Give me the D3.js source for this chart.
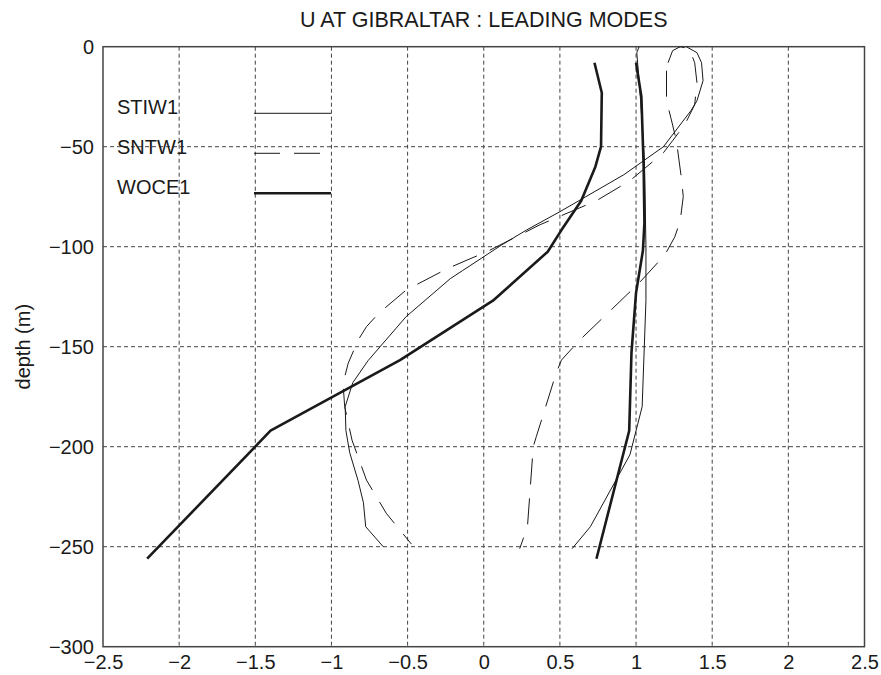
<!DOCTYPE html>
<html>
<head>
<meta charset="utf-8">
<script src="https://cdn.jsdelivr.net/npm/d3@7"></script>
<style>
  body { margin: 0; background: #fff; }
  text { font-family: "Liberation Sans", Arial, sans-serif; fill: #1a1a1a; }
</style>
</head>
<body>
<div id="chart"></div>
<script>
// velocity profiles, [u, depth]
const stiw1A = [[1.02, 0], [1.005, -3], [1.03, -27], [1.055, -57], [1.065, -100], [1.065, -127], [1.04, -180], [0.96, -204], [0.70, -240], [0.58, -251]];
const stiw1B = [[1.33, 0], [1.40, -3], [1.43, -8], [1.44, -17], [1.40, -27], [1.36, -32], [1.18, -50], [0.92, -64], [0.50, -82.5], [0.28, -91.7], [0.12, -99], [-0.14, -112], [-0.22, -116], [-0.51, -135], [-0.76, -157], [-0.86, -168], [-0.91, -180], [-0.905, -192], [-0.88, -203], [-0.825, -217], [-0.79, -228], [-0.775, -240], [-0.66, -250]];
const sntw1A = [[1.21, -8], [1.24, -2], [1.29, 0], [1.35, -1], [1.385, -8], [1.40, -18], [1.385, -29], [1.32, -39], [1.24, -47], [1.18, -53], [0.96, -67], [0.74, -77], [0.37, -89], [0.215, -95], [0.02, -102.5], [-0.11, -106.7], [-0.24, -111], [-0.51, -121.7], [-0.69, -133.3], [-0.77, -140], [-0.825, -146.7], [-0.89, -158.3], [-0.924, -168.3], [-0.913, -180], [-0.865, -196.7], [-0.77, -216.7], [-0.64, -233.3], [-0.475, -248.7]];
const sntw1B = [[1.20, -12], [1.20, -27], [1.23, -36], [1.265, -47], [1.30, -67], [1.31, -75], [1.29, -87], [1.255, -95], [1.19, -104], [1.01, -119], [0.94, -124], [0.63, -146.7], [0.51, -156.7], [0.475, -163.3], [0.345, -195], [0.325, -200], [0.287, -240], [0.236, -251]];
const woce1A = [[0.727, -8], [0.775, -23], [0.77, -50], [0.733, -60], [0.64, -77], [0.51, -91.7], [0.42, -102.5], [0.06, -127], [-0.55, -156.7], [-1.40, -192], [-2.21, -256]];
const woce1B = [[1.00, -8], [1.035, -25], [1.05, -60], [1.055, -88], [1.045, -102], [1.00, -123], [0.97, -153], [0.955, -192], [0.74, -256]];

const xTicks = [-2.5, -2, -1.5, -1, -0.5, 0, 0.5, 1, 1.5, 2, 2.5];
const yTicks = [0, -50, -100, -150, -200, -250, -300];
const legendNames = ['STIW1', 'SNTW1', 'WOCE1'];

const width = 881, height = 675;
const svg = d3.select('#chart').append('svg')
  .attr('width', width)
  .attr('height', height);

const x = d3.scaleLinear().domain([-2.5, 2.5]).range([103, 864.5]);
const y = d3.scaleLinear().domain([-300, 0]).range([646.7, 46.7]);
const fmt = d => (d < 0 ? '\u2212' : '') + Math.abs(d);

// grid
const grid = svg.append('g')
  .attr('stroke', '#444')
  .attr('stroke-width', 1)
  .attr('stroke-dasharray', '4,3');
grid.selectAll('.gx')
  .data(xTicks.slice(1, -1))
  .enter().append('line')
  .attr('x1', d => x(d)).attr('x2', d => x(d))
  .attr('y1', y(0)).attr('y2', y(-300));
grid.selectAll('.gy')
  .data(yTicks.slice(1, -1))
  .enter().append('line')
  .attr('x1', x(-2.5)).attr('x2', x(2.5))
  .attr('y1', d => y(d)).attr('y2', d => y(d));

// axes
svg.append('g')
  .attr('transform', `translate(0,${y(-300)})`)
  .call(d3.axisBottom(x).tickValues(xTicks).tickFormat(fmt).tickSize(0).tickPadding(8))
  .call(g => g.select('.domain').remove())
  .selectAll('text')
  .attr('font-size', 20);
svg.append('g')
  .attr('transform', `translate(${x(-2.5)},0)`)
  .call(d3.axisLeft(y).tickValues(yTicks).tickFormat(fmt).tickSize(0).tickPadding(9))
  .call(g => g.select('.domain').remove())
  .selectAll('text')
  .attr('font-size', 20);
svg.selectAll('.tick text').style('font-family', '"Liberation Sans", Arial, sans-serif').attr('fill', '#1a1a1a');

svg.append('rect')
  .attr('x', x(-2.5)).attr('y', y(0))
  .attr('width', x(2.5) - x(-2.5))
  .attr('height', y(-300) - y(0))
  .attr('fill', 'none')
  .attr('stroke', '#444')
  .attr('stroke-width', 1.5);

// profiles
const line = d3.line().x(d => x(d[0])).y(d => y(d[1]));
const styles = [
  { data: stiw1A, w: 1, dash: null },
  { data: stiw1B, w: 1, dash: null },
  { data: sntw1A, w: 1, dash: '26,14' },
  { data: sntw1B, w: 1, dash: '26,14' },
  { data: woce1A, w: 2.6, dash: null },
  { data: woce1B, w: 2.6, dash: null }
];
styles.forEach(s => {
  svg.append('path')
    .datum(s.data)
    .attr('d', line)
    .attr('fill', 'none')
    .attr('stroke', '#1a1a1a')
    .attr('stroke-width', s.w)
    .attr('stroke-linejoin', 'round')
    .attr('stroke-dasharray', s.dash);
});

// legend
const legendW = [1, 1, 2.6];
const legendDash = [null, '26,14', null];
const legend = svg.append('g');
legendNames.forEach((name, i) => {
  const ly = 113.3 + i * 40;
  legend.append('text')
    .attr('x', 117)
    .attr('y', ly + 1)
    .attr('font-size', 20)
    .text(name);
  legend.append('line')
    .attr('x1', 254).attr('x2', 331)
    .attr('y1', ly).attr('y2', ly)
    .attr('stroke', '#1a1a1a')
    .attr('stroke-width', legendW[i])
    .attr('stroke-dasharray', legendDash[i]);
});

// labels
svg.append('text')
  .attr('x', (x(-2.5) + x(2.5)) / 2)
  .attr('y', 27)
  .attr('text-anchor', 'middle')
  .attr('font-size', 21.5)
  .text('U AT GIBRALTAR : LEADING MODES');
svg.append('text')
  .attr('transform', `translate(30,${(y(0) + y(-300)) / 2}) rotate(-90)`)
  .attr('text-anchor', 'middle')
  .attr('font-size', 20)
  .text('depth (m)');
</script>
</body>
</html>
